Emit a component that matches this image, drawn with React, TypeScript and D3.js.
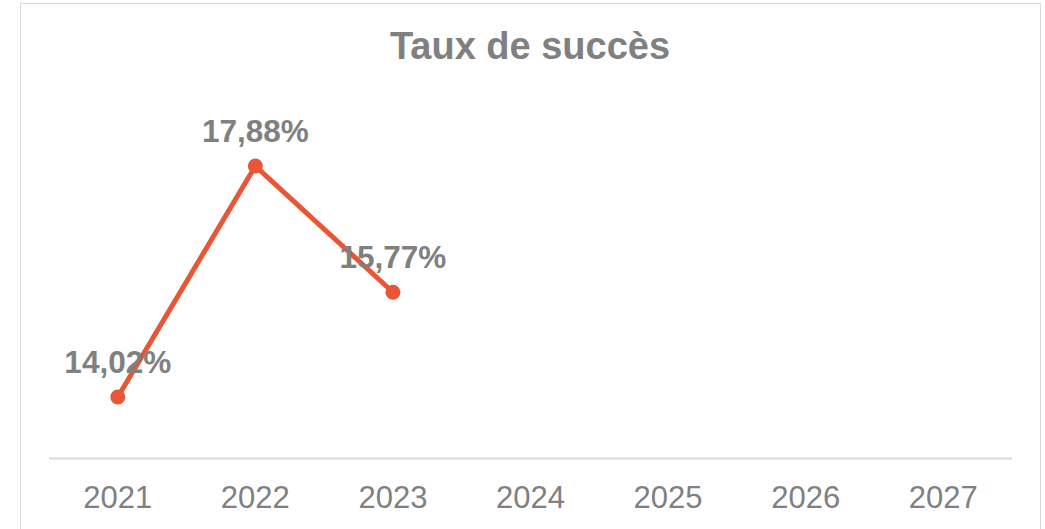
import React from "react";
import * as d3 from "d3";

const years = ["2021", "2022", "2023", "2024", "2025", "2026", "2027"];
const seriesYears = ["2021", "2022", "2023"];
const seriesValues = [0.1402, 0.1788, 0.1577];
const seriesLabels = ["14,02%", "17,88%", "15,77%"];
const title = "Taux de succès";

const W = 1045;
const H = 529;

export default function App() {
  const x = d3.scaleBand<string>().domain(years).range([49, 1012]);
  const y = d3.scaleLinear().domain([0.13, 0.19]).range([458, 99]);
  const cx = (d: string) => (x(d) as number) + x.bandwidth() / 2;
  const pts = seriesYears.map((d, i) => [cx(d), y(seriesValues[i])] as [number, number]);
  const line = d3.line()(pts) as string;
  const font = "'Liberation Sans', Arial, sans-serif";
  const gray = "#808080";
  const orange = "#e95535";
  return (
    <svg width={W} height={H} style={{ position: "fixed", left: 0, top: 0, background: "#fff" }}>
      <rect x={20.5} y={3.5} width={1020} height={560} fill="#fff" stroke="#d9d9d9" strokeWidth={1} />
      <text x={530} y={59} textAnchor="middle" fontFamily={font} fontWeight="bold" fontSize={38} fill={gray}>
        {title}
      </text>
      <line x1={49} x2={1012} y1={458.5} y2={458.5} stroke="#d9d9d9" strokeWidth={2} />
      {years.map((d) => (
        <text key={d} x={cx(d)} y={508} textAnchor="middle" fontFamily={font} fontSize={31} fill={gray}>
          {d}
        </text>
      ))}
      <path d={line} fill="none" stroke={orange} strokeWidth={5} strokeLinejoin="round" />
      {pts.map((p, i) => (
        <circle key={i} cx={p[0]} cy={p[1]} r={7.5} fill={orange} />
      ))}
      {pts.map((p, i) => (
        <text key={"l" + i} x={p[0]} y={p[1] - 24} textAnchor="middle" fontFamily={font} fontWeight="bold" fontSize={31.5} fill={gray}>
          {seriesLabels[i]}
        </text>
      ))}
    </svg>
  );
}
